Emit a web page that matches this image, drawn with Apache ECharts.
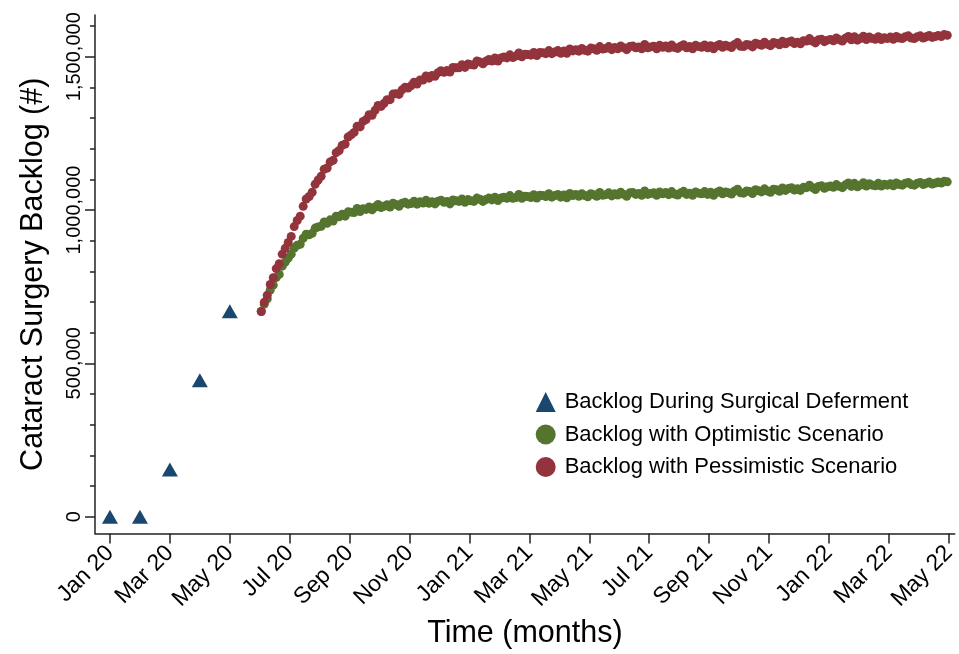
<!DOCTYPE html>
<html><head><meta charset="utf-8">
<script src="https://cdn.jsdelivr.net/npm/echarts@6/dist/echarts.min.js"></script>
<style>html,body{margin:0;padding:0;background:#fff}#c{width:959px;height:654px}</style>
</head><body><div id="c"></div>
<script>
// ---- data (backlog values in thousands of surgeries; x = months since Jan 2020) ----
const monthTickValues = [0,2,4,6,8,10,12,14,16,18,20,22,24,26,28];
const monthTickLabels = ["Jan 20","Mar 20","May 20","Jul 20","Sep 20","Nov 20","Jan 21","Mar 21","May 21","Jul 21","Sep 21","Nov 21","Jan 22","Mar 22","May 22"];
const yMajorTicks = [0,500,1000,1500];
const yMinorTicks = [100,200,300,400,600,700,800,900,1100,1200,1300,1400,1600];

const defermentMonths = [0,1,2,3,4];
const defermentBacklog = [0,0,154,445,670];

const scenarioStartMonth = 5.05;
const scenarioStepMonths = 0.1;
const optimisticBacklog = [
669,693,710,739,755,780,790,817,830,843,
856,876,885,888,908,921,919,924,941,945,
947,961,957,968,964,980,978,986,980,994,
993,992,1005,995,1004,1002,1010,1001,1010,1018,
1008,1012,1017,1010,1022,1018,1012,1022,1025,1019,
1021,1029,1019,1027,1023,1032,1022,1027,1020,1029,
1032,1025,1028,1020,1033,1030,1028,1036,1025,1034,
1030,1028,1039,1035,1028,1034,1039,1033,1042,1031,
1039,1042,1038,1047,1038,1041,1051,1038,1045,1044,
1041,1050,1039,1048,1047,1044,1053,1042,1047,1051,
1042,1049,1040,1054,1047,1051,1045,1053,1047,1043,
1053,1050,1045,1057,1048,1050,1056,1046,1053,1049,
1058,1051,1045,1056,1057,1051,1054,1048,1062,1051,
1054,1056,1048,1059,1053,1057,1050,1060,1052,1049,
1056,1061,1051,1055,1048,1059,1055,1053,1060,1051,
1058,1048,1057,1062,1053,1059,1056,1052,1062,1068,
1056,1055,1062,1060,1054,1066,1063,1059,1069,1062,
1058,1068,1066,1061,1072,1064,1070,1073,1065,1069,
1064,1074,1073,1081,1073,1067,1077,1079,1071,1076,
1078,1074,1083,1077,1073,1082,1088,1077,1087,1076,
1081,1089,1078,1086,1081,1079,1087,1078,1084,1081,
1086,1079,1088,1083,1081,1087,1090,1083,1081,1087,
1090,1083,1087,1091,1085,1088,1091,1088,1094,1092
];
const pessimisticBacklog = [
669,699,722,757,779,809,825,856,875,894,
914,946,966,980,1012,1036,1044,1058,1084,1098,
1110,1133,1137,1157,1162,1187,1194,1211,1215,1238,
1245,1253,1273,1271,1289,1295,1311,1309,1325,1341,
1338,1348,1360,1360,1378,1379,1377,1392,1400,1398,
1405,1417,1411,1424,1424,1437,1430,1439,1436,1448,
1454,1449,1455,1450,1465,1464,1464,1474,1465,1476,
1474,1473,1486,1483,1477,1485,1491,1486,1496,1486,
1496,1499,1496,1506,1497,1502,1512,1500,1508,1507,
1505,1514,1504,1514,1513,1510,1520,1510,1515,1520,
1511,1519,1511,1525,1519,1523,1518,1527,1521,1518,
1528,1526,1521,1533,1525,1527,1533,1523,1530,1526,
1535,1529,1523,1533,1535,1529,1532,1526,1540,1529,
1532,1534,1526,1537,1531,1535,1528,1538,1530,1527,
1534,1539,1529,1533,1526,1537,1533,1531,1538,1529,
1536,1526,1535,1540,1531,1537,1534,1530,1540,1546,
1534,1533,1540,1538,1532,1544,1541,1537,1547,1540,
1536,1546,1544,1539,1550,1542,1548,1551,1543,1547,
1542,1552,1551,1559,1551,1545,1555,1557,1549,1554,
1556,1552,1561,1555,1551,1560,1566,1555,1565,1554,
1559,1567,1556,1564,1559,1557,1565,1556,1562,1559,
1564,1557,1566,1561,1559,1565,1568,1561,1559,1565,
1568,1561,1565,1569,1563,1566,1569,1566,1572,1570
];

const seriesNames = ["Backlog During Surgical Deferment","Backlog with Optimistic Scenario","Backlog with Pessimistic Scenario"];
const colors = {navy:"#1a476f", green:"#55752f", red:"#93343d"};

// ---- build ----
const FONT = "'Liberation Sans', Arial, Helvetica, sans-serif";
const toPairs = (xs, ys) => ys.map((y, i) => [xs[i], y]);
const scenarioX = optimisticBacklog.map((_, i) => scenarioStartMonth + i * scenarioStepMonths);
const fmtNum = v => Math.round(v * 1000).toLocaleString('en-US');
const AX = '#222';

const chart = echarts.init(document.getElementById('c'), null, {renderer: 'canvas'});
chart.setOption({
  animation: false,
  backgroundColor: '#fff',
  grid: {left: 95, top: 15, right: 2, bottom: 117, containLabel: false},
  legend: {
    orient: 'vertical', left: 535.7, top: 391, padding: 0,
    itemWidth: 20, itemHeight: 20, itemGap: 10.5,
    textStyle: {fontFamily: FONT, fontSize: 22, color: '#000', padding: [0,0,0,4]},
    data: [
      {name: seriesNames[0], icon: 'triangle'},
      {name: seriesNames[1], icon: 'circle'},
      {name: seriesNames[2], icon: 'circle'}
    ],
    selectedMode: false
  },
  xAxis: {
    type: 'value', min: -0.5, max: 28.2,
    name: 'Time (months)', nameLocation: 'middle', nameGap: 74,
    nameTextStyle: {fontFamily: FONT, fontSize: 30.5, color: '#000'},
    axisLine: {show: true, onZero: false, lineStyle: {color: AX, width: 1.5}},
    axisTick: {show: true, length: 10, customValues: monthTickValues, lineStyle: {color: AX, width: 1.5}},
    axisLabel: {
      customValues: monthTickValues, rotate: 45, margin: 16,
      fontFamily: FONT, fontSize: 23, color: '#000',
      formatter: v => monthTickLabels[monthTickValues.indexOf(Math.round(v))] || ''
    },
    splitLine: {show: false}
  },
  yAxis: [{
    type: 'value', min: -55, max: 1636, position: 'left',
    name: 'Cataract Surgery Backlog (#)', nameLocation: 'middle', nameGap: 46, nameRotate: 90,
    nameTextStyle: {fontFamily: FONT, fontSize: 30.5, color: '#000'},
    axisLine: {show: true, onZero: false, lineStyle: {color: AX, width: 1.5}},
    axisTick: {show: true, length: 10, customValues: yMajorTicks, lineStyle: {color: AX, width: 1.5}},
    axisLabel: {customValues: yMajorTicks, rotate: 90, margin: 11, fontFamily: FONT, fontSize: 20, color: '#000', formatter: fmtNum},
    splitLine: {show: false}
  }, {
    type: 'value', min: -55, max: 1636, position: 'left',
    axisLine: {show: false, onZero: false},
    axisTick: {show: true, length: 5, customValues: yMinorTicks, lineStyle: {color: AX, width: 1.5}},
    axisLabel: {show: false},
    splitLine: {show: false}
  }],
  series: [
    {name: seriesNames[0], type: 'scatter', symbol: 'triangle', symbolSize: [16, 14],
     itemStyle: {color: colors.navy, opacity: 1}, data: toPairs(defermentMonths, defermentBacklog), z: 3},
    {name: seriesNames[1], type: 'scatter', symbol: 'circle', symbolSize: 9,
     itemStyle: {color: colors.green, opacity: 1}, data: toPairs(scenarioX, optimisticBacklog), z: 2},
    {name: seriesNames[2], type: 'scatter', symbol: 'circle', symbolSize: 9,
     itemStyle: {color: colors.red, opacity: 1}, data: toPairs(scenarioX, pessimisticBacklog), z: 2}
  ]
});
</script></body></html>
